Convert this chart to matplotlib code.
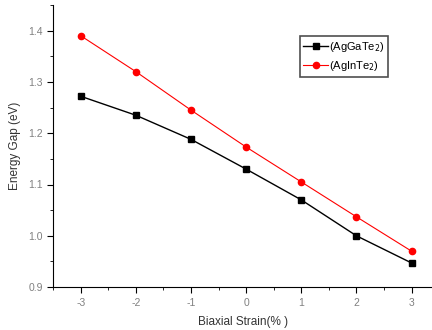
import numpy as np
import matplotlib
matplotlib.use("Agg")
import matplotlib.pyplot as plt
from matplotlib.ticker import MultipleLocator

plt.rcParams['font.family'] = ['Liberation Sans', 'DejaVu Sans']
plt.rcParams['axes.unicode_minus'] = False

strain = [-3, -2, -1, 0, 1, 2, 3]
gap_agga = [1.272, 1.235, 1.188, 1.130, 1.070, 1.000, 0.947]
gap_agin = [1.390, 1.320, 1.245, 1.173, 1.105, 1.037, 0.970]

fig = plt.figure(figsize=(4.32, 3.30), dpi=100)
ax = fig.add_axes([0.123, 0.130, 0.877, 0.855])

ax.plot(strain, gap_agga, color="black", marker="s", markersize=4.5, lw=1.0,
        label=r"(AgGaTe$_2$)")
ax.plot(strain, gap_agin, color="red", marker="o", markersize=4.5, lw=0.8,
        label=r"(AgInTe$_2$)")

ax.set_xlim(-3.5, 3.37)
ax.set_ylim(0.9, 1.45)
ax.xaxis.set_major_locator(MultipleLocator(1))
ax.xaxis.set_minor_locator(MultipleLocator(0.5))
ax.yaxis.set_major_locator(MultipleLocator(0.1))
ax.yaxis.set_minor_locator(MultipleLocator(0.05))
ax.yaxis.set_major_formatter(plt.FuncFormatter(lambda v, p: f"{v:.1f}"))

for s in ["top", "right"]:
    ax.spines[s].set_visible(False)
ax.tick_params(which="both", direction="out", labelsize=7.5, labelcolor="#808080")
ax.tick_params(which="major", length=4)
ax.tick_params(which="minor", length=2)

ax.set_xlabel("Biaxial Strain(% )", fontsize=8.5, color="#333333", labelpad=6)
ax.set_ylabel("Energy Gap (eV)", fontsize=8.5, color="#333333", labelpad=5)

leg = ax.legend(loc="upper right", bbox_to_anchor=(0.885, 0.89), fontsize=8,
                frameon=True, fancybox=False, edgecolor="#222222",
                handlelength=2.2, handletextpad=0.1, borderpad=0.35,
                labelspacing=0.45, borderaxespad=0)
leg.get_frame().set_linewidth(1.2)

fig.savefig("out.png", dpi=100)
